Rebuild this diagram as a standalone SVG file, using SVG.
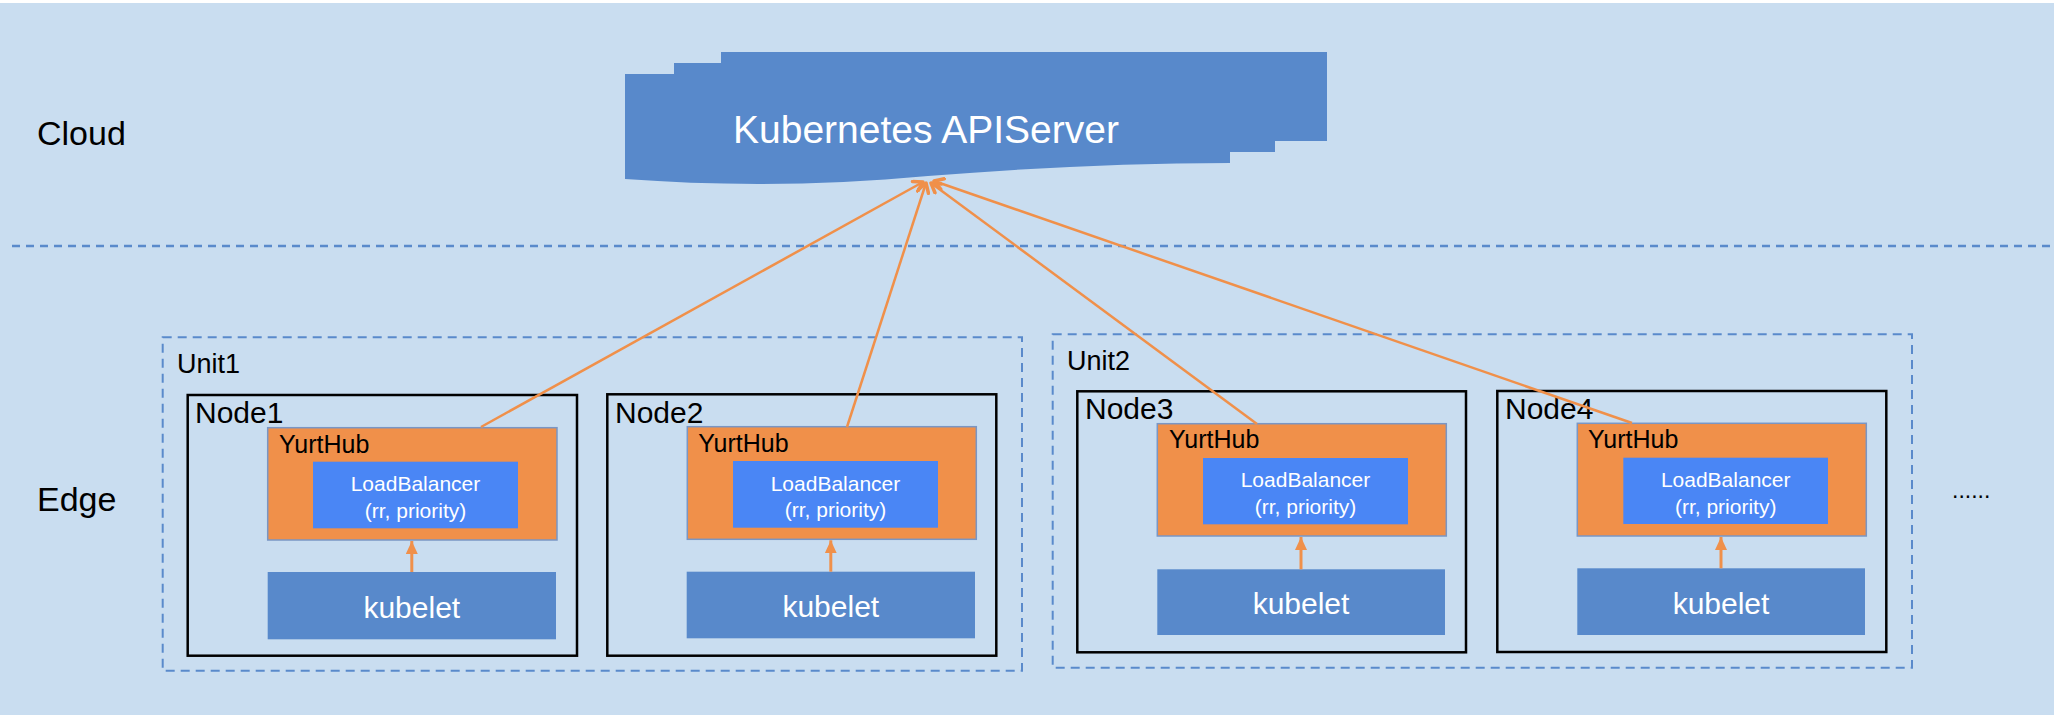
<svg xmlns="http://www.w3.org/2000/svg" width="2054" height="718" viewBox="0 0 2054 718">
<style>
text{font-family:"Liberation Sans",Arial,Helvetica,sans-serif}
.lbl{font-size:34px;fill:#000}
.unit{fill:none;stroke:#5A8ACB;stroke-width:2;stroke-dasharray:9 6}
.unitt{font-size:27px;fill:#000}
.node{fill:none;stroke:#000;stroke-width:2.5}
.nodet{font-size:30px;fill:#000}
.yh{fill:#F0904A;stroke:#7A96C4;stroke-width:1.5}
.yht{font-size:25px;fill:#000}
.lb{fill:#4A86F5}
.lbt{font-size:21px;fill:#fff;text-anchor:middle}
.kb{fill:#5889CB}
.kbt{font-size:30px;fill:#fff;text-anchor:middle}
.conn{stroke:#F0904A;stroke-width:2.5;fill:none}
.small{stroke:#F0904A;stroke-width:3;fill:none}
</style>
<defs>
<marker id="openArrow" viewBox="0 0 14 14" refX="11" refY="7" markerWidth="14" markerHeight="14" markerUnits="userSpaceOnUse" orient="auto">
<path d="M2,1.5 L11,7 L2,12.5" fill="none" stroke="#F0904A" stroke-width="3.5" stroke-linecap="round" stroke-linejoin="round"/>
</marker>
<marker id="solidArrow" viewBox="0 0 13 12" refX="13" refY="6" markerWidth="13" markerHeight="12" markerUnits="userSpaceOnUse" orient="auto">
<path d="M0,0 L13,6 L0,12 z" fill="#F0904A"/>
</marker>
</defs>
<rect x="0" y="3" width="2054" height="712" fill="#C9DDF0"/>
<line x1="12" y1="246" x2="2054" y2="246" stroke="#5A8ACB" stroke-width="2.5" stroke-dasharray="8 6"/>
<text class="lbl" x="37" y="145">Cloud</text>
<text class="lbl" x="37" y="511">Edge</text>

<g id="apiserver">
<rect x="721" y="52" width="606" height="89" fill="#5889CB"/>
<rect x="674" y="63" width="601" height="89" fill="#5889CB"/>
<path d="M625,74 H1230 V163 C1130,163 1030,168 928,176 C820,186 720,186 625,179 Z" fill="#5889CB"/>
<text x="733" y="143" style="font-size:39px;fill:#fff">Kubernetes APIServer</text>
</g>

<g id="unit1">
<rect class="unit" x="162.7" y="337.3" width="859.3" height="333.4"/>
<text class="unitt" x="177" y="373">Unit1</text>
</g>
<g id="unit2">
<rect class="unit" x="1052.7" y="334.3" width="859.3" height="333.4"/>
<text class="unitt" x="1067" y="370">Unit2</text>
</g>

<g id="node1">
<rect class="node" x="187.7" y="395" width="389.3" height="260.7"/>
<text class="nodet" x="195" y="423">Node1</text>
<rect class="yh" x="267.7" y="427.7" width="289.3" height="112.3"/>
<text class="yht" x="279" y="452.7">YurtHub</text>
<rect class="lb" x="313" y="461.7" width="205" height="66.6"/>
<text class="lbt" x="415.5" y="491">LoadBalancer</text>
<text class="lbt" x="415.5" y="517.5">(rr, priority)</text>
<rect class="kb" x="267.7" y="572" width="288.3" height="67.3"/>
<text class="kbt" x="411.8" y="617.5">kubelet</text>
</g>

<g id="node2">
<rect class="node" x="607.3" y="394.3" width="389" height="261.4"/>
<text class="nodet" x="615" y="422.7">Node2</text>
<rect class="yh" x="687.3" y="426.7" width="289" height="112.6"/>
<text class="yht" x="698.3" y="451.7">YurtHub</text>
<rect class="lb" x="733" y="461" width="205" height="66.7"/>
<text class="lbt" x="835.5" y="490.7">LoadBalancer</text>
<text class="lbt" x="835.5" y="516.7">(rr, priority)</text>
<rect class="kb" x="686.7" y="571.7" width="288.3" height="66.6"/>
<text class="kbt" x="830.8" y="617.3">kubelet</text>
</g>

<g id="node3">
<rect class="node" x="1077.3" y="391.3" width="388.7" height="261"/>
<text class="nodet" x="1085" y="419.3">Node3</text>
<rect class="yh" x="1157.3" y="423.7" width="289" height="112.3"/>
<text class="yht" x="1169" y="448.3">YurtHub</text>
<rect class="lb" x="1203" y="458" width="205" height="66.3"/>
<text class="lbt" x="1305.5" y="487.2">LoadBalancer</text>
<text class="lbt" x="1305.5" y="514">(rr, priority)</text>
<rect class="kb" x="1157.3" y="569.3" width="287.7" height="65.7"/>
<text class="kbt" x="1301" y="614">kubelet</text>
</g>

<g id="node4">
<rect class="node" x="1497.3" y="391" width="389" height="261"/>
<text class="nodet" x="1505" y="418.5">Node4</text>
<rect class="yh" x="1577.3" y="423.3" width="289" height="112.7"/>
<text class="yht" x="1588" y="448.3">YurtHub</text>
<rect class="lb" x="1623.3" y="457.7" width="204.7" height="66.3"/>
<text class="lbt" x="1725.7" y="486.9">LoadBalancer</text>
<text class="lbt" x="1725.7" y="513.7">(rr, priority)</text>
<rect class="kb" x="1577.3" y="568.3" width="287.7" height="66.7"/>
<text class="kbt" x="1721" y="613.5">kubelet</text>
</g>

<text x="1952" y="498" style="font-size:23px;fill:#000">......</text>

<g id="connectors">
<line class="conn" x1="481" y1="427" x2="923" y2="182" marker-end="url(#openArrow)"/>
<line class="conn" x1="847" y1="427" x2="926" y2="183" marker-end="url(#openArrow)"/>
<line class="conn" x1="1257" y1="424" x2="931" y2="183" marker-end="url(#openArrow)"/>
<line class="conn" x1="1632" y1="423" x2="934" y2="181" marker-end="url(#openArrow)"/>
<line class="small" x1="411.8" y1="572" x2="411.8" y2="541" marker-end="url(#solidArrow)"/>
<line class="small" x1="830.8" y1="571.7" x2="830.8" y2="540.3" marker-end="url(#solidArrow)"/>
<line class="small" x1="1301" y1="569.3" x2="1301" y2="537" marker-end="url(#solidArrow)"/>
<line class="small" x1="1721" y1="568.3" x2="1721" y2="537" marker-end="url(#solidArrow)"/>
</g>
</svg>
